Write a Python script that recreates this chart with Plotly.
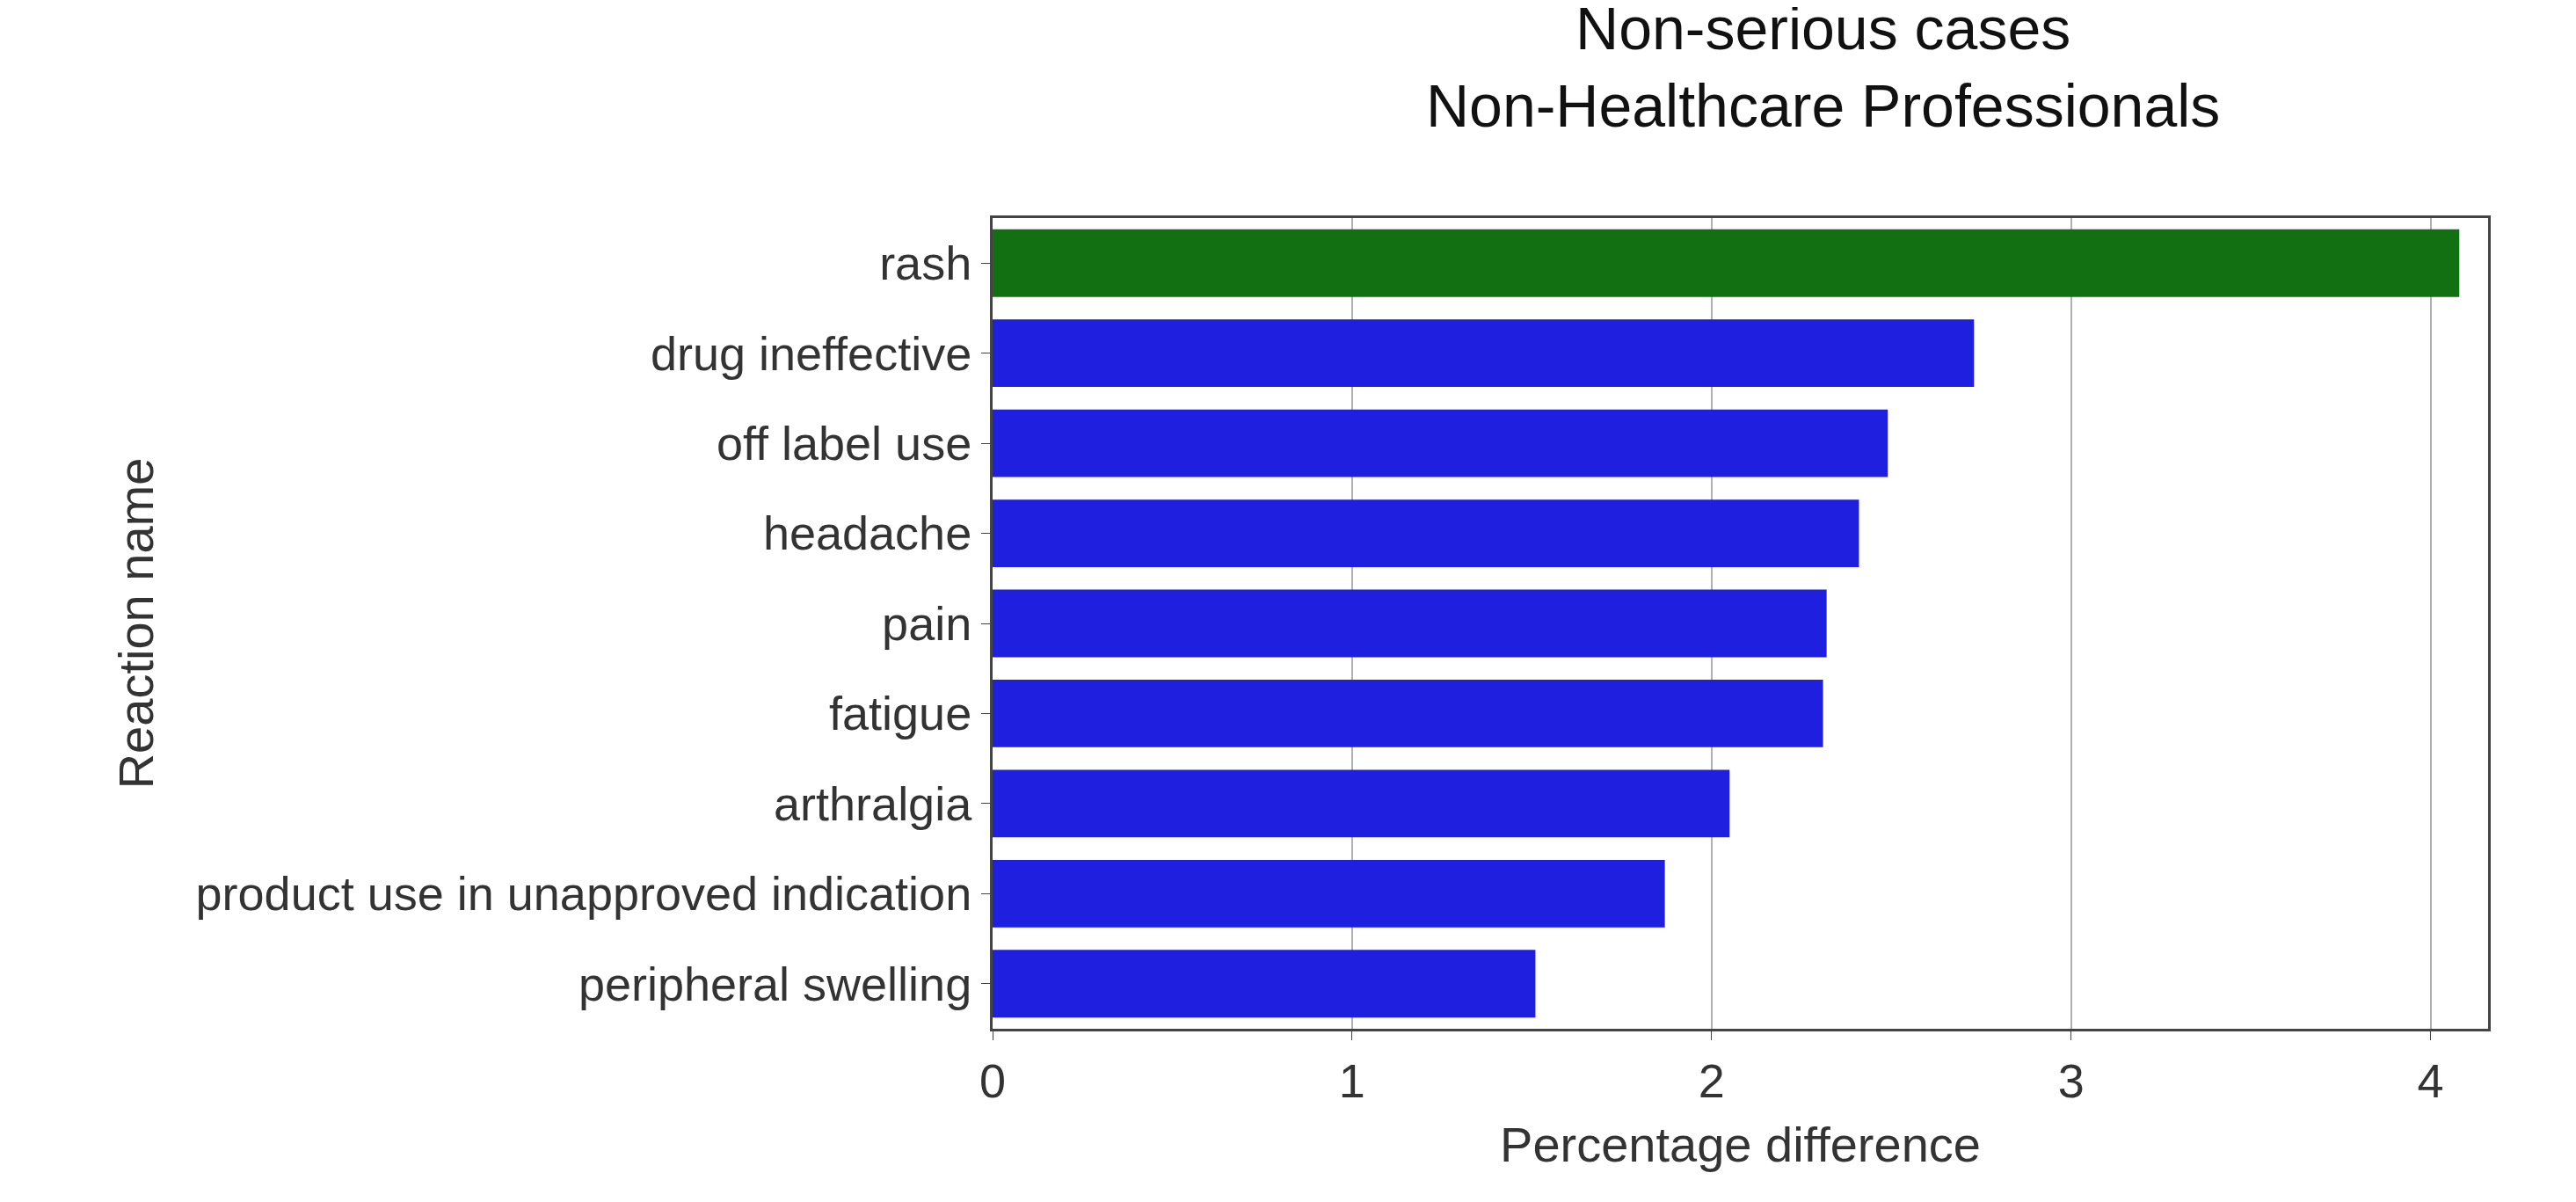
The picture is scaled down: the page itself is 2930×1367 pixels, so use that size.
import plotly.graph_objects as go

reactions = ["rash", "drug ineffective", "off label use", "headache", "pain", "fatigue",
             "arthralgia", "product use in unapproved indication", "peripheral swelling"]
pct_diff = [4.08, 2.73, 2.49, 2.41, 2.32, 2.31, 2.05, 1.87, 1.51]
bar_colors = ["#127012"] + ["#1f1fe0"] * 8
x_ticks = [0, 1, 2, 3, 4]

fig = go.Figure(go.Bar(
    x=pct_diff, y=reactions, orientation="h",
    marker=dict(color=bar_colors, line=dict(width=0)),
    width=0.75,
))

fig.update_layout(
    width=2930, height=1367,
    paper_bgcolor="white", plot_bgcolor="white",
    margin=dict(l=1121, r=108, t=240, b=205),
    font=dict(family="Liberation Sans, Arial", size=54, color="#333333"),
    showlegend=False,
    title=dict(text="Non-serious cases<br>Non-Healthcare Professionals",
               x=0.705, xanchor="center", y=0.965, yanchor="top",
               font=dict(size=68, color="#111111")),
)
fig.update_xaxes(
    range=[0, 4.16], tickvals=x_ticks, showgrid=True, gridcolor="#b0b0b0", gridwidth=2,
    showline=True, linecolor="#444444", linewidth=3, mirror=True,
    ticks="outside", ticklen=10, tickcolor="#444444",
    title=dict(text="Percentage difference", font=dict(size=56), standoff=25),
    zeroline=False,
)
fig.update_yaxes(
    autorange="reversed", showgrid=False,
    showline=True, linecolor="#444444", linewidth=3, mirror=True,
    ticks="outside", ticklen=10, tickcolor="#444444",
    title=dict(text="Reaction name", font=dict(size=56), standoff=30),
)

fig.write_html("out.html")
